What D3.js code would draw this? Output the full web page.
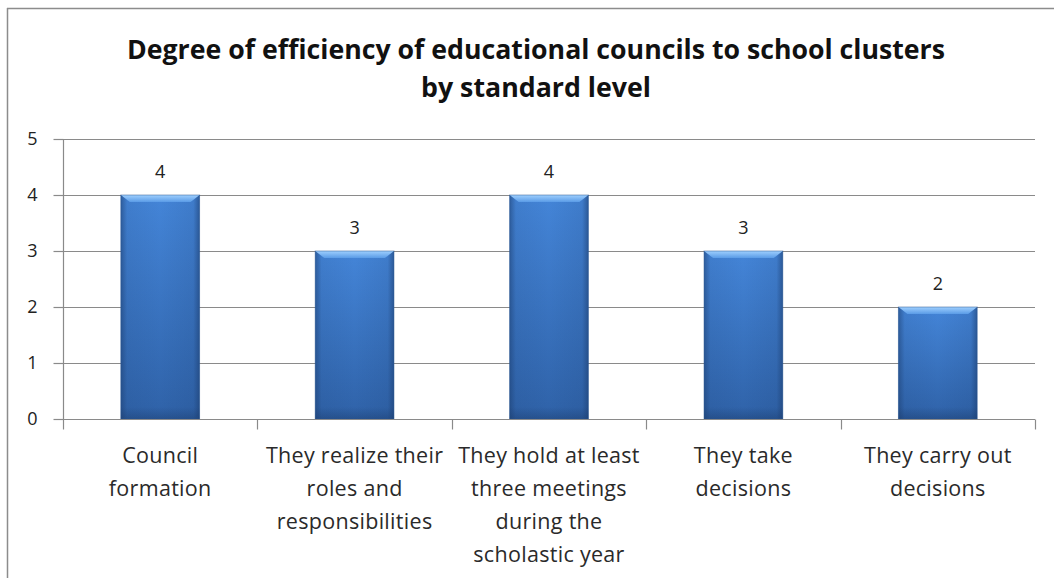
<!DOCTYPE html>
<html>
<head>
<meta charset="utf-8">
<script src="https://cdn.jsdelivr.net/npm/d3@7"></script>
<style>
  html, body { margin: 0; padding: 0; background: #fff; }
  svg { display: block; }
  text { font-family: "Open Sans", Lato, sans-serif; }
</style>
</head>
<body>
<svg id="chart" width="1054" height="578"></svg>
<script>
// Chart data
const categories = [
  ["Council", "formation"],
  ["They realize their", "roles and", "responsibilities"],
  ["They hold at least", "three meetings", "during the", "scholastic year"],
  ["They take", "decisions"],
  ["They carry out", "decisions"]
];
const values = [4, 3, 4, 3, 2];
const yTicks = [0, 1, 2, 3, 4, 5];
const titleLines = [
  "Degree of efficiency of educational councils to school clusters",
  "by standard level"
];

const svg = d3.select("#chart");
const W = 1054, H = 578;
const plot = { left: 63, right: 1035, top: 139, bottom: 419 };

// Outer chart frame (top and left edges are visible in the canvas)
svg.append("line").attr("x1", 7).attr("x2", W).attr("y1", 8.5).attr("y2", 8.5)
  .attr("stroke", "#8c8c8c").attr("stroke-width", 1.5);
svg.append("line").attr("x1", 7.5).attr("x2", 7.5).attr("y1", 8).attr("y2", H)
  .attr("stroke", "#8c8c8c").attr("stroke-width", 1.5);

// Gradients for the bevelled bars
const defs = svg.append("defs");
const vg = defs.append("linearGradient").attr("id", "barV")
  .attr("x1", 0).attr("y1", 0).attr("x2", 0).attr("y2", 1);
vg.append("stop").attr("offset", "0%").attr("stop-color", "#4485d8");
vg.append("stop").attr("offset", "100%").attr("stop-color", "#2f62a8");
const hg = defs.append("linearGradient").attr("id", "barH")
  .attr("x1", 0).attr("y1", 0).attr("x2", 1).attr("y2", 0);
hg.append("stop").attr("offset", "0%").attr("stop-color", "#1c3d6e").attr("stop-opacity", 0.55);
hg.append("stop").attr("offset", "8%").attr("stop-color", "#1c3d6e").attr("stop-opacity", 0.1);
hg.append("stop").attr("offset", "50%").attr("stop-color", "#1c3d6e").attr("stop-opacity", 0);
hg.append("stop").attr("offset", "92%").attr("stop-color", "#1c3d6e").attr("stop-opacity", 0.12);
hg.append("stop").attr("offset", "100%").attr("stop-color", "#1c3d6e").attr("stop-opacity", 0.6);
const bg = defs.append("linearGradient").attr("id", "barB")
  .attr("x1", 0).attr("y1", 0).attr("x2", 0).attr("y2", 1);
bg.append("stop").attr("offset", "0%").attr("stop-color", "#1c3d6e").attr("stop-opacity", 0);
bg.append("stop").attr("offset", "100%").attr("stop-color", "#1c3d6e").attr("stop-opacity", 0.45);
const tg = defs.append("linearGradient").attr("id", "barT")
  .attr("x1", 0).attr("y1", 0).attr("x2", 0).attr("y2", 1);
tg.append("stop").attr("offset", "0%").attr("stop-color", "#9fd0ff");
tg.append("stop").attr("offset", "100%").attr("stop-color", "#5a9be6");

// Scales
const x = d3.scaleBand().domain(d3.range(categories.length))
  .range([plot.left, plot.right]).paddingInner(0).paddingOuter(0);
const y = d3.scaleLinear().domain([0, 5]).range([plot.bottom, plot.top]);
const barW = x.bandwidth() * 0.405;

// Horizontal gridlines
svg.append("g").selectAll("line").data(yTicks.slice(1)).join("line")
  .attr("x1", plot.left).attr("x2", plot.right)
  .attr("y1", d => Math.round(y(d)) + 0.5).attr("y2", d => Math.round(y(d)) + 0.5)
  .attr("stroke", "#8a8a8a").attr("stroke-width", 1.2);

// Y axis
const yAxis = svg.append("g").attr("transform", `translate(${plot.left + 0.5},0)`)
  .call(d3.axisLeft(y).tickValues(yTicks).tickSize(10).tickPadding(16).tickFormat(d3.format("d")));
yAxis.select(".domain").attr("stroke", "#8a8a8a").attr("stroke-width", 1.2)
  .attr("d", `M0,${plot.top}V${plot.bottom}`);
yAxis.selectAll(".tick line").attr("stroke", "#8a8a8a").attr("stroke-width", 1.2);
yAxis.selectAll(".tick text").attr("fill", "#222").style("font-size", "18px")
  .style("font-family", "'Open Sans', sans-serif");

// Bars
const bars = svg.append("g").selectAll("g").data(values).join("g")
  .attr("transform", (d, i) => `translate(${x(i) + (x.bandwidth() - barW) / 2},${y(d)})`);
bars.append("rect").attr("width", barW).attr("height", d => y(0) - y(d)).attr("fill", "url(#barV)");
bars.append("rect").attr("width", barW).attr("height", d => y(0) - y(d)).attr("fill", "url(#barH)");
bars.append("rect").attr("y", d => y(0) - y(d) - 12).attr("width", barW).attr("height", 12)
  .attr("fill", "url(#barB)");
bars.append("path")
  .attr("d", `M0,0H${barW}L${barW - 9},7H9Z`)
  .attr("fill", "url(#barT)");
bars.append("rect").attr("width", barW).attr("height", d => y(0) - y(d))
  .attr("fill", "none").attr("stroke", "#2a568f").attr("stroke-opacity", 0.5).attr("stroke-width", 1);

// X axis baseline and category ticks
const xAxis = svg.append("g").attr("transform", `translate(0,${plot.bottom + 0.5})`)
  .call(d3.axisBottom(x).tickSize(0).tickFormat(""));
xAxis.select(".domain").attr("stroke", "#8a8a8a").attr("stroke-width", 1.2)
  .attr("d", `M${plot.left},0H${plot.right}`);
xAxis.selectAll(".tick").remove();
const bounds = d3.range(categories.length + 1).map(i =>
  i < categories.length ? x(i) : x(categories.length - 1) + x.bandwidth());
xAxis.selectAll("line.sep").data(bounds).join("line").attr("class", "sep")
  .attr("x1", d => Math.round(d) + 0.5).attr("x2", d => Math.round(d) + 0.5)
  .attr("y1", 0).attr("y2", 10).attr("stroke", "#8a8a8a").attr("stroke-width", 1.2);

// Category labels
const lab = svg.append("g").selectAll("text").data(categories).join("text")
  .attr("text-anchor", "middle").attr("fill", "#2a2a2a")
  .style("font-size", "21.5px").style("letter-spacing", "0.3px");
lab.each(function(lines, i) {
  const t = d3.select(this);
  lines.forEach((ln, k) => {
    t.append("tspan").attr("x", x(i) + x.bandwidth() / 2).attr("y", 463 + k * 33).text(ln);
  });
});

// Value labels
svg.append("g").selectAll("text").data(values).join("text")
  .attr("x", (d, i) => x(i) + x.bandwidth() / 2)
  .attr("y", d => y(d) - 17)
  .attr("text-anchor", "middle").attr("fill", "#222")
  .style("font-size", "18px").text(d => d);

// Title, spread to the chart title width
const titleWidths = [818, 230];
svg.append("g").selectAll("text").data(titleLines).join("text")
  .attr("x", 536).attr("y", (d, i) => 59 + i * 38)
  .attr("text-anchor", "middle").attr("fill", "#111")
  .style("font-size", "26px").style("font-weight", "bold")
  .attr("textLength", (d, i) => titleWidths[i])
  .attr("lengthAdjust", "spacingAndGlyphs")
  .text(d => d);
</script>
</body>
</html>
